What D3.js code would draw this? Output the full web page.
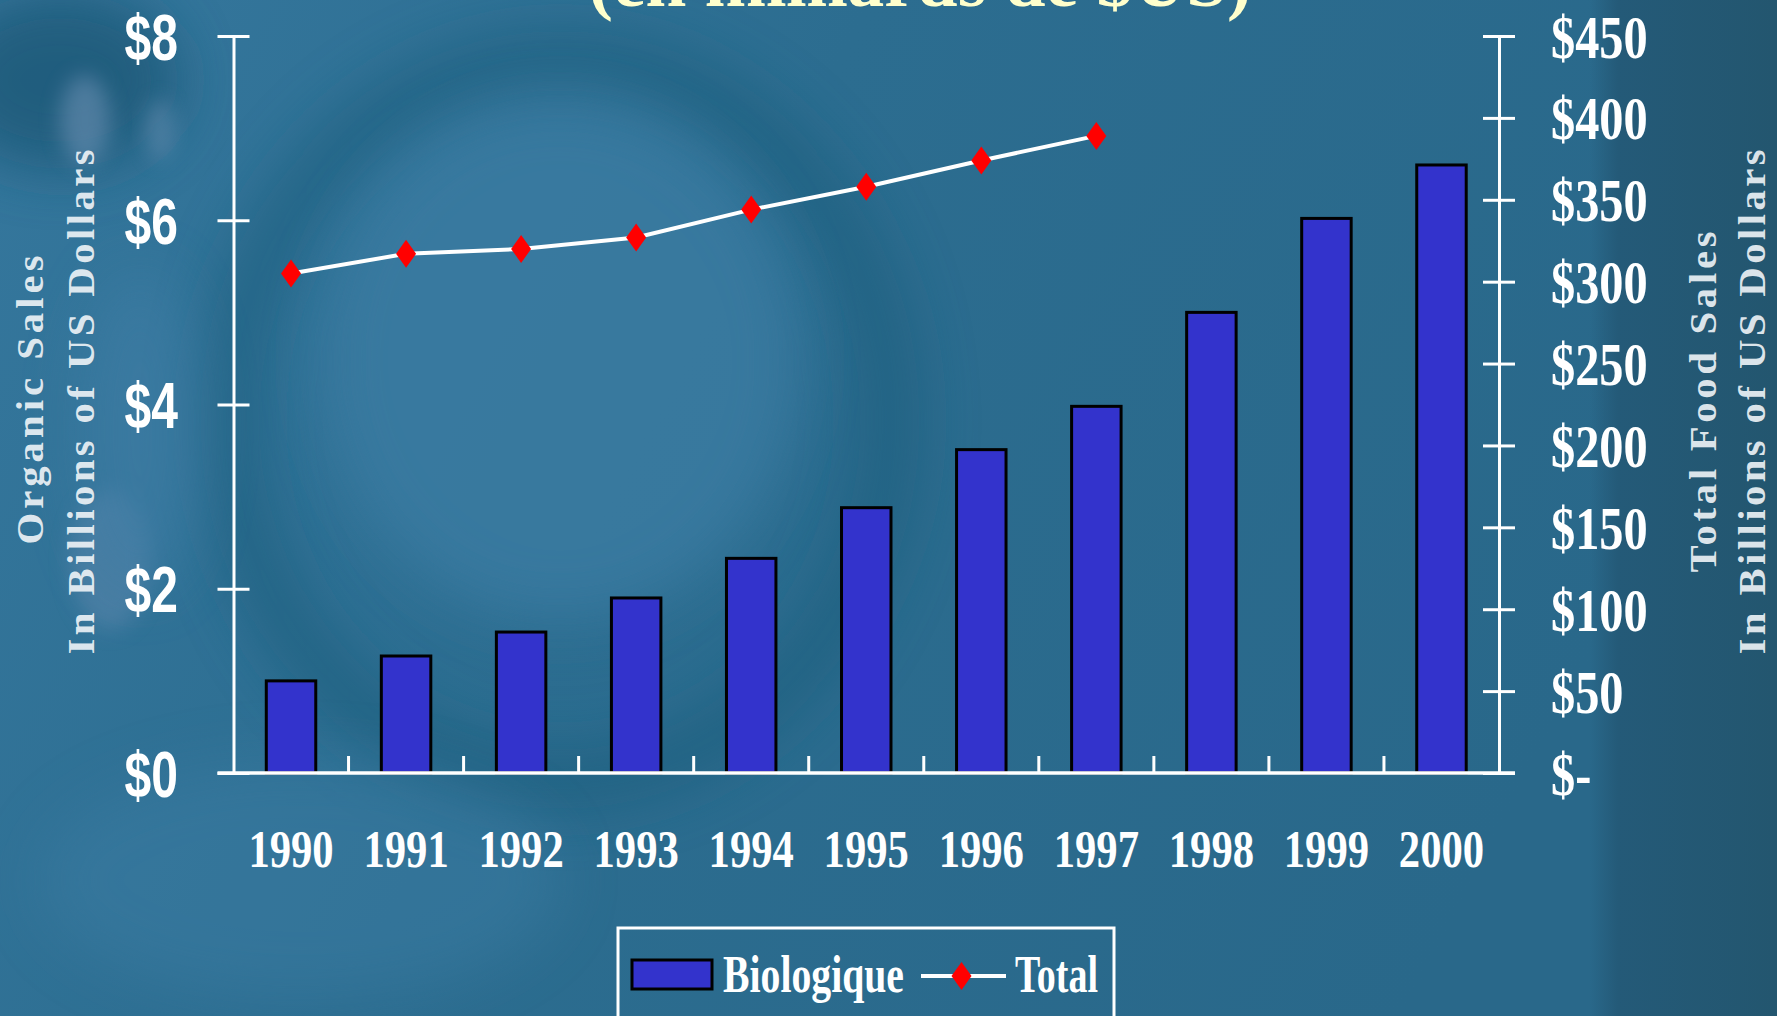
<!DOCTYPE html>
<html>
<head>
<meta charset="utf-8">
<script src="https://cdn.jsdelivr.net/npm/d3@7"></script>
<style>
  body { margin: 0; background: #2a6a8c; overflow: hidden; }
  svg { display: block; }
  .serif { font-family: "Liberation Serif", "Times New Roman", serif; font-weight: bold; }
  .sans { font-family: "Liberation Sans", Arial, sans-serif; font-weight: bold; }
</style>
</head>
<body>
<div id="chart"></div>
<script>
// data
const years = ["1990", "1991", "1992", "1993", "1994", "1995", "1996", "1997", "1998", "1999", "2000"];
const organicSales = [1.0, 1.27, 1.53, 1.9, 2.33, 2.88, 3.51, 3.98, 5.0, 6.02, 6.6];
const totalYears = ["1990", "1991", "1992", "1993", "1994", "1995", "1996", "1997"];
const totalSales = [305, 317, 320, 327, 344, 358, 374, 389];
const leftTicks = [0, 2, 4, 6, 8];
const rightTicks = [0, 50, 100, 150, 200, 250, 300, 350, 400, 450];

const W = 1777, H = 1016;
const plot = { left: 233.5, right: 1499, top: 36, bottom: 773 };

const svg = d3.select("#chart").append("svg")
    .attr("width", W)
    .attr("height", H);

// ---- background (blurry blue photo look) ----
const defs = svg.append("defs");
const bgGrad = defs.append("linearGradient").attr("id", "bg").attr("x1", 0).attr("x2", 1).attr("y1", 0).attr("y2", 0.3);
bgGrad.append("stop").attr("offset", "0").attr("stop-color", "#35779d");
bgGrad.append("stop").attr("offset", "0.45").attr("stop-color", "#2c6d90");
bgGrad.append("stop").attr("offset", "1").attr("stop-color", "#29688a");
defs.append("filter").attr("id", "blur").attr("x", "-50%").attr("y", "-50%").attr("width", "200%").attr("height", "200%")
    .append("feGaussianBlur").attr("stdDeviation", 28);
defs.append("filter").attr("id", "blurS").attr("x", "-50%").attr("y", "-50%").attr("width", "200%").attr("height", "200%")
    .append("feGaussianBlur").attr("stdDeviation", 10);
const edgeGrad = defs.append("linearGradient").attr("id", "edge").attr("x1", 0).attr("x2", 1);
edgeGrad.append("stop").attr("offset", "0").attr("stop-color", "#245a78").attr("stop-opacity", 0);
edgeGrad.append("stop").attr("offset", "0.15").attr("stop-color", "#245a78").attr("stop-opacity", 1);
edgeGrad.append("stop").attr("offset", "1").attr("stop-color", "#23566f").attr("stop-opacity", 1);

const bg = svg.append("g").attr("class", "background");
bg.append("rect").attr("width", W).attr("height", H).attr("fill", "url(#bg)");
bg.append("ellipse").attr("cx", 560).attr("cy", 420).attr("rx", 330).attr("ry", 360)
    .attr("fill", "none").attr("stroke", "#1f5d7c").attr("stroke-width", 60).attr("opacity", 0.6)
    .attr("filter", "url(#blur)");
bg.append("ellipse").attr("cx", 560).attr("cy", 360).attr("rx", 240).attr("ry", 260)
    .attr("fill", "#3a7ba2").attr("opacity", 0.8).attr("filter", "url(#blur)");
bg.append("ellipse").attr("cx", 60).attr("cy", 80).attr("rx", 120).attr("ry", 90)
    .attr("fill", "#1d5877").attr("opacity", 0.8).attr("filter", "url(#blur)");
bg.append("ellipse").attr("cx", 85).attr("cy", 120).attr("rx", 25).attr("ry", 45)
    .attr("fill", "#6a8fb2").attr("opacity", 0.6).attr("filter", "url(#blurS)");
bg.append("ellipse").attr("cx", 160).attr("cy", 130).attr("rx", 14).attr("ry", 30)
    .attr("fill", "#6a8fb2").attr("opacity", 0.5).attr("filter", "url(#blurS)");
bg.append("ellipse").attr("cx", 110).attr("cy", 560).attr("rx", 40).attr("ry", 70)
    .attr("fill", "#5f88ae").attr("opacity", 0.5).attr("filter", "url(#blurS)");
bg.append("ellipse").attr("cx", 140).attr("cy", 430).attr("rx", 60).attr("ry", 160)
    .attr("fill", "#3f7ea6").attr("opacity", 0.6).attr("filter", "url(#blur)");
bg.append("ellipse").attr("cx", 300).attr("cy", 880).attr("rx", 260).attr("ry", 120)
    .attr("fill", "#3a7ca2").attr("opacity", 0.5).attr("filter", "url(#blur)");
bg.append("rect").attr("x", 1590).attr("y", 0).attr("width", W - 1590).attr("height", H)
    .attr("fill", "url(#edge)");

// ---- scales ----
const x = d3.scaleBand()
    .domain(years)
    .range([plot.left, plot.right])
    .paddingInner(0.57)
    .paddingOuter(0.285);
const yLeft = d3.scaleLinear().domain([0, 8]).range([plot.bottom, plot.top]);
const yRight = d3.scaleLinear().domain([0, 450]).range([plot.bottom, plot.top]);
const cx = d => x(d) + x.bandwidth() / 2;

// ---- bars ----
svg.append("g").attr("class", "bars")
    .selectAll("rect")
    .data(years)
    .enter().append("rect")
    .attr("x", d => x(d))
    .attr("y", (d, i) => yLeft(organicSales[i]))
    .attr("width", x.bandwidth())
    .attr("height", (d, i) => yLeft(0) - yLeft(organicSales[i]))
    .attr("fill", "#3333cc")
    .attr("stroke", "#000")
    .attr("stroke-width", 3);

// ---- left axis ----
const leftAxis = svg.append("g")
    .attr("transform", `translate(${plot.left},0)`)
    .call(d3.axisLeft(yLeft).tickValues(leftTicks).tickSizeInner(16).tickSizeOuter(0).tickFormat(d => "$" + d));
leftAxis.select(".domain").attr("stroke", "#fff").attr("stroke-width", 3);
leftAxis.selectAll(".tick line").attr("x1", -16).attr("x2", 16).attr("stroke", "#fff").attr("stroke-width", 3);
leftAxis.selectAll(".tick text")
    .attr("class", "sans")
    .attr("x", 0)
    .attr("dy", "0.36em")
    .attr("transform", "translate(-55.5,0) scale(0.75,1)")
    .attr("fill", "#fff")
    .attr("font-size", 64)
    .attr("text-anchor", "end");

// ---- right axis ----
const rightAxis = svg.append("g")
    .attr("transform", `translate(${plot.right},0)`)
    .call(d3.axisRight(yRight).tickValues(rightTicks).tickSizeInner(16).tickSizeOuter(0)
        .tickFormat(d => d === 0 ? "$-" : "$" + d));
rightAxis.select(".domain").attr("stroke", "#fff").attr("stroke-width", 3);
rightAxis.selectAll(".tick line").attr("x1", -16).attr("x2", 16).attr("stroke", "#fff").attr("stroke-width", 3);
rightAxis.selectAll(".tick text")
    .attr("class", "serif")
    .attr("x", 0)
    .attr("dy", "0.34em")
    .attr("transform", "translate(52,0) scale(0.78,1)")
    .attr("fill", "#fff")
    .attr("font-size", 62)
    .attr("text-anchor", "start");

// ---- x axis ----
svg.append("line")
    .attr("x1", plot.left - 16).attr("x2", plot.right + 16)
    .attr("y1", yLeft(0)).attr("y2", yLeft(0))
    .attr("stroke", "#fff").attr("stroke-width", 3.5);
const boundaries = years.slice(1).map(d => x(d) - x.step() * x.paddingInner() / 2);
svg.append("g").selectAll("line")
    .data(boundaries)
    .enter().append("line")
    .attr("x1", d => d).attr("x2", d => d)
    .attr("y1", yLeft(0)).attr("y2", yLeft(0) - 17)
    .attr("stroke", "#fff").attr("stroke-width", 3);
svg.append("g").selectAll("text")
    .data(years)
    .enter().append("text")
    .attr("class", "serif")
    .attr("transform", d => `translate(${cx(d)},867) scale(0.82,1)`)
    .attr("text-anchor", "middle")
    .attr("font-size", 52)
    .attr("fill", "#fff")
    .text(d => d);

// ---- total food sales line ----
const line = d3.line()
    .x(d => cx(d[0]))
    .y(d => yRight(d[1]));
const totalPts = totalYears.map((d, i) => [d, totalSales[i]]);
svg.append("path")
    .datum(totalPts)
    .attr("d", line)
    .attr("fill", "none")
    .attr("stroke", "#fff")
    .attr("stroke-width", 4);
const diamond = "M0,-14L10,0L0,14L-10,0Z";
svg.append("g").selectAll("path")
    .data(totalPts)
    .enter().append("path")
    .attr("transform", d => `translate(${cx(d[0])},${yRight(d[1])})`)
    .attr("d", diamond)
    .attr("fill", "#ff0000");

// ---- titles ----
svg.append("text")
    .attr("class", "serif")
    .attr("x", 920).attr("y", 6)
    .attr("text-anchor", "middle")
    .attr("font-size", 73)
    .attr("fill", "#ffffcc")
    .attr("textLength", 663)
    .attr("lengthAdjust", "spacingAndGlyphs")
    .text("(en milliards de $US)");

function sideTitle(xPos, yMid, len, txt) {
    svg.append("text")
        .attr("class", "serif")
        .attr("transform", `translate(${xPos},${yMid}) rotate(-90) scale(1.1,1)`)
        .attr("text-anchor", "middle")
        .attr("font-size", 37)
        .attr("fill", "#eef3f7")
        .attr("fill-opacity", 0.92)
        .attr("textLength", len / 1.1)
        .attr("lengthAdjust", "spacing")
        .text(txt);
}
sideTitle(43, 400, 289, "Organic Sales");
sideTitle(94, 402, 505, "In Billions of US Dollars");
sideTitle(1716, 402, 341, "Total Food Sales");
sideTitle(1765, 402, 505, "In Billions of US Dollars");

// ---- legend ----
const legend = svg.append("g").attr("class", "legend");
legend.append("rect")
    .attr("x", 618).attr("y", 928)
    .attr("width", 496).attr("height", 130)
    .attr("fill", "none").attr("stroke", "#fff").attr("stroke-width", 3);
legend.append("rect")
    .attr("x", 632).attr("y", 960)
    .attr("width", 80).attr("height", 29)
    .attr("fill", "#3333cc").attr("stroke", "#000").attr("stroke-width", 3);
legend.append("text")
    .attr("class", "serif")
    .attr("x", 723).attr("y", 992)
    .attr("font-size", 53).attr("fill", "#fff")
    .attr("textLength", 181).attr("lengthAdjust", "spacingAndGlyphs")
    .text("Biologique");
legend.append("line")
    .attr("x1", 921).attr("x2", 1006).attr("y1", 976).attr("y2", 976)
    .attr("stroke", "#fff").attr("stroke-width", 4);
legend.append("path")
    .attr("transform", "translate(961.5,976)")
    .attr("d", diamond)
    .attr("fill", "#ff0000");
legend.append("text")
    .attr("class", "serif")
    .attr("x", 1015).attr("y", 992)
    .attr("font-size", 53).attr("fill", "#fff")
    .attr("textLength", 83).attr("lengthAdjust", "spacingAndGlyphs")
    .text("Total");
</script>
</body>
</html>
